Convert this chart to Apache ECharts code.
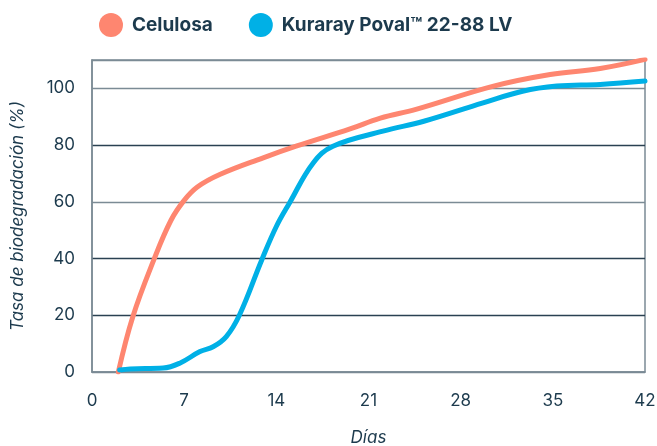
<!DOCTYPE html>
<html>
<head>
<meta charset="utf-8">
<script src="https://cdn.jsdelivr.net/npm/echarts@6/dist/echarts.min.js"></script>
<style>
  html, body { margin: 0; padding: 0; background: #fff; }
  #chart { width: 657px; height: 446px; }
</style>
</head>
<body>
<div id="chart"></div>
<script>
// días / % biodegradación
var celDays = [2, 3.1, 4.7, 6.0, 7.0, 8.0, 9.7, 13, 15.5, 19.6, 21.9, 24.6, 30.5, 34.8, 38.6, 42];
var celVals = [0, 19.5, 39.6, 53.5, 60.5, 65.2, 69.6, 75.5, 79.6, 85.7, 89.5, 92.6, 100.8, 104.9, 107, 110.2];

var pvaDays = [2.1, 2.9, 5.4, 6.7, 8.2, 9.2, 10.2, 11.2, 12.9, 14, 15, 16.8, 18.3, 22.1, 25.2, 29.7, 32.7, 35.3, 38.6, 42];
var pvaVals = [0.7, 1.1, 1.4, 3.2, 7.2, 8.9, 12.5, 20.1, 39.6, 51.3, 59.6, 73.7, 79.6, 84.9, 88.4, 94.9, 99, 100.8, 101.4, 102.6];

var xTicks = [0, 7, 14, 21, 28, 35, 42];
var yTicks = [0, 20, 40, 60, 80, 100];
var seriesNames = ['Celulosa', 'Kuraray Poval\u2122 22-88 LV'];

var textColor = '#1c3a4d';
var font = 'Inter, "Noto Sans", sans-serif';

function pairs(xs, ys) {
  var out = [];
  for (var i = 0; i < xs.length; i++) out.push([xs[i], ys[i]]);
  return out;
}

var myChart = echarts.init(document.getElementById('chart'));
var option = {
  animation: false,
  color: ['#fe8670', '#00b0e6'],
  legend: {
    top: 8,
    left: 94,
    icon: 'circle',
    itemWidth: 24,
    itemHeight: 24,
    itemGap: 36,
    textStyle: { color: textColor, fontSize: 19, fontWeight: 'bold', fontFamily: font, padding: [0, 0, 0, 4] },
    data: seriesNames
  },
  grid: {
    left: 92, right: 12, top: 60, bottom: 74,
    outerBoundsMode: 'none',
    containLabel: false,
    show: true,
    borderColor: '#7b8b95',
    borderWidth: 1.5
  },
  xAxis: {
    type: 'value',
    min: 0, max: 42, interval: 7,
    name: 'Días',
    nameLocation: 'middle',
    nameGap: 57,
    nameTextStyle: { color: textColor, fontSize: 17, fontStyle: 'italic', fontFamily: font },
    axisLine: { show: true, lineStyle: { color: '#7b8b95', width: 1.5 } },
    axisTick: { show: false },
    splitLine: { show: false },
    axisLabel: {
      color: textColor, fontSize: 17, fontFamily: font, margin: 20,
      formatter: function (v) { return xTicks.indexOf(v) >= 0 ? String(v) : ''; }
    }
  },
  yAxis: {
    type: 'value',
    min: 0, max: 110, interval: 20,
    name: 'Tasa de biodegradación (%)',
    nameLocation: 'middle',
    nameGap: 66,
    nameTextStyle: { color: textColor, fontSize: 17, fontStyle: 'italic', fontFamily: font },
    axisLine: { show: true, lineStyle: { color: '#7b8b95', width: 1.5 } },
    axisTick: { show: false },
    axisLabel: {
      color: textColor, fontSize: 17, fontFamily: font, margin: 17,
      showMaxLabel: false,
      formatter: function (v) { return yTicks.indexOf(v) >= 0 ? String(v) : ''; }
    },
    splitLine: {
      show: true,
      lineStyle: {
        width: 1.3,
        color: ['#7b8b95', '#2a4152', '#2a4152', '#7b8b95', '#2a4152', '#7b8b95']
      }
    }
  },
  series: [
    {
      name: seriesNames[0],
      type: 'line',
      smooth: 0.4,
      showSymbol: false,
      lineStyle: { width: 5, cap: 'round', join: 'round' },
      data: pairs(celDays, celVals)
    },
    {
      name: seriesNames[1],
      type: 'line',
      smooth: 0.4,
      showSymbol: false,
      lineStyle: { width: 5, cap: 'round', join: 'round' },
      data: pairs(pvaDays, pvaVals)
    }
  ]
};
option && myChart.setOption(option);
</script>
</body>
</html>
